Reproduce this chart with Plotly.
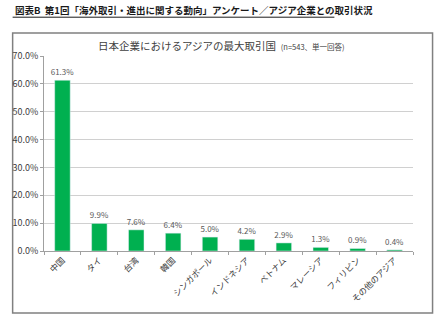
import plotly.graph_objects as go

categories = ["中国", "タイ", "台湾", "韓国", "シンガポール", "インドネシア", "ベトナム", "マレーシア", "フィリピン", "その他のアジア"]
values = [61.3, 9.9, 7.6, 6.4, 5.0, 4.2, 2.9, 1.3, 0.9, 0.4]
y_ticks = [0, 10, 20, 30, 40, 50, 60, 70]
page_title = "図表B  第1回「海外取引・進出に関する動向」アンケート／アジア企業との取引状況"
chart_title = "日本企業におけるアジアの最大取引国"
chart_note = "(n=543、単一回答)"

FONT = "Noto Sans CJK JP"

fig = go.Figure(go.Bar(
    x=categories, y=values,
    marker_color="#00B050",
    text=[f"{v:.1f}%" for v in values],
    textposition="outside",
    constraintext="none",
    textfont=dict(size=8, color="#595959", family=FONT),
    cliponaxis=False,
    width=0.42,
))

fig.update_layout(
    width=445, height=327,
    margin=dict(l=37, r=32, t=56, b=76),
    paper_bgcolor="white", plot_bgcolor="white",
    font=dict(family=FONT, color="#333333"),
    showlegend=False,
    bargap=0.58,
)
fig.update_yaxes(
    range=[0, 70], tickvals=y_ticks, ticktext=[f"{t:.1f}%" for t in y_ticks],
    showgrid=True, gridcolor="#d0d0d0", gridwidth=1,
    showline=True, linecolor="#a0a0a0", linewidth=1,
    ticks="outside", ticklen=3, tickcolor="#a0a0a0",
    tickfont=dict(size=9, color="#404040"), zeroline=False,
)
fig.update_xaxes(
    tickangle=-45, tickson="boundaries",
    showline=True, linecolor="#a0a0a0", linewidth=1,
    ticks="outside", ticklen=3, tickcolor="#a0a0a0",
    tickfont=dict(size=8.5, color="#404040"),
)

# chart frame
fig.add_shape(type="rect", xref="paper", yref="paper",
              x0=-0.085, x1=1.053, y0=-0.318, y1=1.118,
              line=dict(color="#808080", width=1.5), layer="below")

fig.add_annotation(xref="paper", yref="paper", x=-0.085, y=1.236,
                   xanchor="left", yanchor="middle", showarrow=False,
                   text=f"<b>{page_title}</b>",
                   font=dict(size=9.5, color="#1a1a1a", family=FONT))
fig.add_shape(type="line", xref="paper", yref="paper",
              x0=-0.085, x1=0.787, y0=1.199, y1=1.199,
              line=dict(color="#1a1a1a", width=1))

fig.add_annotation(xref="paper", yref="paper", x=0.142, y=1.056,
                   xanchor="left", yanchor="middle", showarrow=False,
                   text=f"{chart_title}  <span style='font-size:7.5px'>{chart_note}</span>",
                   font=dict(size=10.5, color="#404040", family=FONT))

fig.write_html("out.html")
